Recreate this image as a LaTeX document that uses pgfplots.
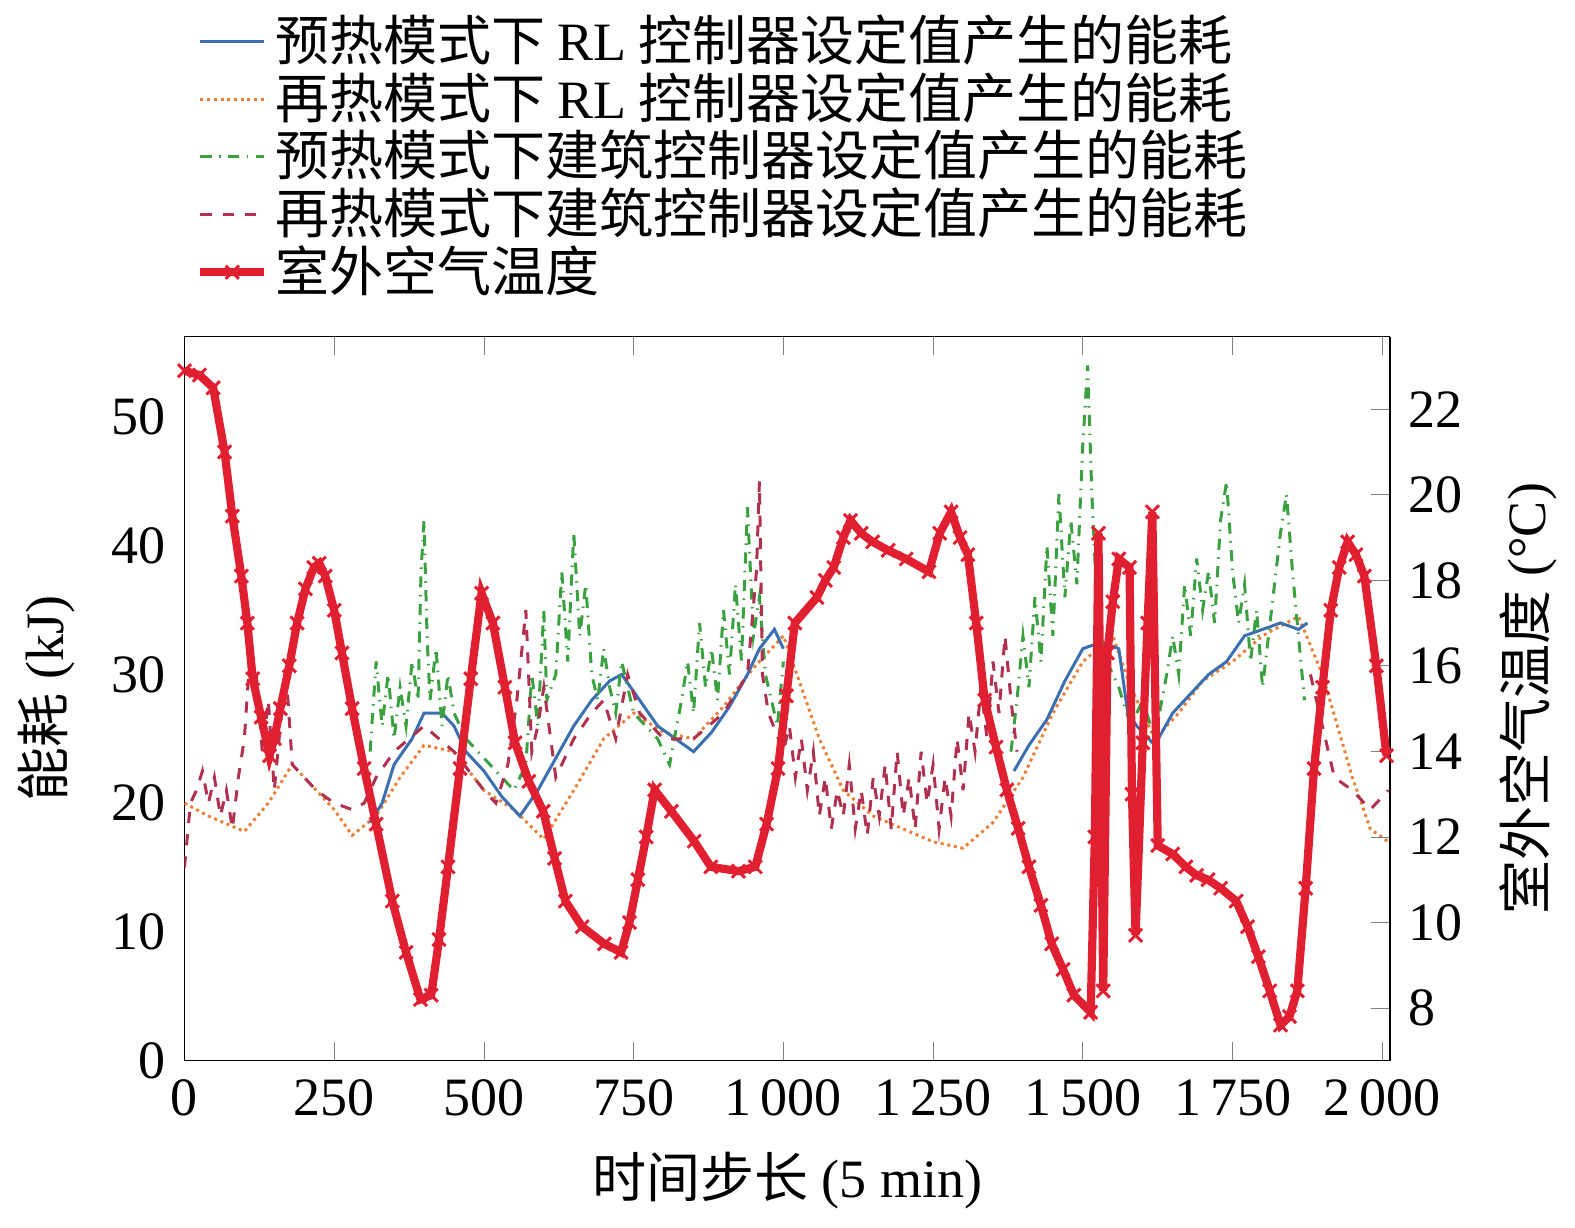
\documentclass[border=0pt]{standalone}
\usepackage{pgfplots}
\pgfplotsset{compat=1.18}
\usepackage{fontspec}
\setmainfont{Liberation Serif}
\newfontfamily\cjk{Noto Sans CJK SC}
\definecolor{cb}{HTML}{3A6FB0}
\definecolor{co}{HTML}{E8803A}
\definecolor{cg}{HTML}{3AA040}
\definecolor{cd}{HTML}{B03050}
\definecolor{cr}{HTML}{E02030}
\begin{document}
\fontsize{14.5}{17}\selectfont
\begin{tikzpicture}
\pgfplotsset{every axis/.append style={scale only axis,width=323.7pt,height=194.4pt,
 xmin=0,xmax=2013,
 /pgf/number format/assume math mode=true,
 /pgf/number format/1000 sep={\,},
 tick label style={font=\fontsize{14.5}{17}\selectfont},
 label style={font=\fontsize{14.5}{17}\selectfont}}}
\begin{axis}[ymin=0,ymax=56.25,axis y line*=left,
 xtick={0,250,...,2000},ytick={0,10,...,50},
 tick align=inside,major tick length=5pt,
 ytick style={draw=none},
 xlabel={{\cjk 时间步长} (5 min)},ylabel={{\cjk 能耗} (kJ)}]
\addplot[co,densely dotted,thick] coordinates {(0,20)(40,19)(100,17.8)(140,20)(180,23)(220,21)(250,19.5)(280,17.5)(320,19)(360,22)(400,24.5)(450,24)(500,21)(550,19.5)(600,17.2)(650,21)(700,25)(750,27)(800,25.5)(850,25)(900,27.5)(950,30.5)(1000,33)(1030,29)(1060,25)(1100,21)(1150,19)(1200,18)(1250,17)(1300,16.5)(1350,18.5)(1400,22)(1450,27)(1500,31)(1550,33)(1580,29)(1620,25)(1660,27)(1700,29.5)(1750,31)(1800,33)(1860,34.5)(1900,30)(1950,22)(1980,18)(2010,17)};
\addplot[cb,thick] coordinates {(310,18.5)(330,20)(350,23)(380,25)(400,27)(430,27)(450,26)(470,24)(500,22.5)(530,20.5)(560,19)(590,21)(620,23.5)(650,26)(680,28)(710,29.5)(730,30)(760,28)(790,26)(820,25)(850,24)(880,25.5)(910,27.5)(940,30)(960,32)(985,33.5)(1000,32)};
\addplot[cb,thick] coordinates {(1385,22.5)(1410,24.5)(1440,26.5)(1470,29.5)(1500,32)(1530,32.5)(1560,32)(1575,27)(1590,26)(1620,24.5)(1650,27)(1680,28.5)(1710,30)(1740,31)(1770,33)(1800,33.5)(1830,34)(1860,33.5)(1875,34)};
\addplot[cg,dash dot,thick] coordinates {(310,24)(320,31)(330,26)(340,30)(350,25)(360,29)(370,26)(380,31)(390,28)(395,38)(400,42)(405,33)(410,28)(420,32)(430,26)(440,30)(450,27)(470,25)(490,24)(510,23)(530,22)(550,21)(570,23)(580,30)(590,26)(600,35)(605,28)(620,30)(630,38)(640,31)(650,41)(660,33)(670,37)(680,30)(690,28)(700,32)(710,29)(720,27)(730,31)(750,27)(770,26)(790,25)(810,23)(830,28)(840,31)(850,27)(860,34)(870,29)(880,32)(890,28)(900,35)(910,30)(920,37)(930,31)(940,43)(950,33)(960,36)(970,30)(990,26)(1000,31)};
\addplot[cg,dash dot,thick] coordinates {(1380,24)(1390,28)(1400,33)(1410,29)(1420,36)(1430,31)(1440,40)(1450,33)(1460,44)(1470,36)(1480,42)(1490,37)(1500,48)(1508,54)(1515,44)(1525,34)(1540,31)(1560,29)(1580,26)(1600,28)(1620,25)(1640,30)(1650,33)(1660,30)(1670,37)(1680,33)(1690,39)(1700,35)(1710,38)(1720,34)(1730,42)(1740,45)(1750,38)(1760,34)(1770,37)(1780,31)(1790,35)(1800,29)(1810,33)(1820,37)(1830,41)(1840,44)(1850,38)(1860,33)(1870,28)};
\addplot[cd,dashed,thick] coordinates {(0,15)(10,20)(20,21)(30,22.5)(40,20)(50,22)(60,19)(70,21)(80,18)(90,22)(100,25)(110,32)(120,30)(130,24)(140,28)(150,21)(160,26)(170,30)(180,23)(200,22)(220,21)(250,20)(280,19.5)(300,20)(320,22)(350,24)(400,26)(450,24)(500,21)(520,20)(540,23)(555,28)(570,35)(580,24)(590,26)(600,29)(620,22)(650,25)(680,27)(700,28)(720,25)(740,30)(760,27)(780,26)(800,25)(850,25)(900,27)(940,30)(955,38)(960,45)(965,30)(975,27)(1000,24)(1010,26)(1020,22)(1030,25)(1040,21)(1050,24)(1060,19)(1070,22)(1080,18)(1090,21)(1100,19)(1110,23)(1120,18)(1130,21)(1140,17.5)(1150,22)(1160,19)(1170,23)(1180,18)(1190,24)(1200,19)(1210,22)(1220,18)(1230,24)(1240,20)(1250,23)(1260,18)(1270,22)(1280,19)(1290,25)(1300,21)(1310,27)(1320,24)(1330,29)(1340,25)(1350,31)(1360,27)(1370,33)(1380,28)(1390,24)};
\addplot[cd,dashed,thick] coordinates {(1880,30)(1900,26)(1920,22)(1950,21)(1980,19.5)(2010,21)};
\end{axis}
\begin{axis}[ymin=6.77,ymax=23.7,axis y line*=right,axis x line=none,
 ytick={8,10,...,22},tick align=inside,major tick length=5pt,
 ylabel={{\cjk 室外空气温度} (°C)},
 legend style={at={(0,1.03)},anchor=south west,draw=none,fill=none,
  font=\cjk\fontsize{14.5}{16}\selectfont,row sep=-3pt},
 legend cell align=left]
\addlegendimage{cb,thick}\addlegendentry{预热模式下 {\rmfamily RL} 控制器设定值产生的能耗}
\addlegendimage{co,densely dotted,thick}\addlegendentry{再热模式下 {\rmfamily RL} 控制器设定值产生的能耗}
\addlegendimage{cg,dash dot,thick}\addlegendentry{预热模式下建筑控制器设定值产生的能耗}
\addlegendimage{cd,dashed,thick}\addlegendentry{再热模式下建筑控制器设定值产生的能耗}
\addplot[cr,line width=2.2pt,mark=x,mark size=2.5pt,mark options={line width=0.8pt}] coordinates {(0,22.9)(25,22.8)(48,22.5)(67,21)(80,19.5)(95,18.1)(105,17)(114,15.7)(128,14.8)(142,13.9)(150,14.3)(160,15)(175,16)(188,17)(202,17.8)(216,18.3)(225,18.4)(235,18.1)(250,17.3)(263,16.3)(280,15)(300,13.6)(320,12.3)(347,10.5)(370,9.3)(394,8.2)(412,8.3)(425,9.6)(440,11.3)(460,13.6)(478,15.7)(496,17.7)(515,17)(535,15.5)(552,14.2)(575,13.3)(599,12.6)(618,11.5)(636,10.5)(664,9.9)(701,9.5)(729,9.3)(743,10)(757,11)(771,12)(785,13.1)(813,12.6)(851,11.9)(879,11.3)(925,11.2)(953,11.3)(972,12.3)(991,13.6)(1005,15.3)(1019,17)(1056,17.6)(1070,18)(1084,18.3)(1100,19)(1112,19.4)(1130,19.1)(1149,18.9)(1175,18.7)(1205,18.5)(1243,18.2)(1261,19.1)(1280,19.6)(1295,19)(1308,18.6)(1322,17)(1336,15.2)(1355,14.1)(1373,13.1)(1392,12.2)(1410,11.3)(1430,10.4)(1448,9.5)(1467,8.9)(1485,8.3)(1513,7.9)(1520,12)(1526,19.1)(1534,8.4)(1541,16.3)(1550,17.5)(1560,18.5)(1578,18.3)(1582,13)(1588,9.7)(1600,14.2)(1608,17)(1616,19.6)(1625,11.8)(1650,11.6)(1672,11.3)(1690,11.1)(1709,11)(1730,10.8)(1756,10.5)(1775,9.9)(1793,9.2)(1812,8.4)(1830,7.6)(1845,7.8)(1858,8.4)(1872,10.8)(1886,13.6)(1900,15.5)(1914,17.3)(1928,18.3)(1942,18.9)(1956,18.6)(1970,18.1)(1990,16)(2007,13.9)};
\addlegendentry{室外空气温度}
\end{axis}
\end{tikzpicture}
\end{document}
